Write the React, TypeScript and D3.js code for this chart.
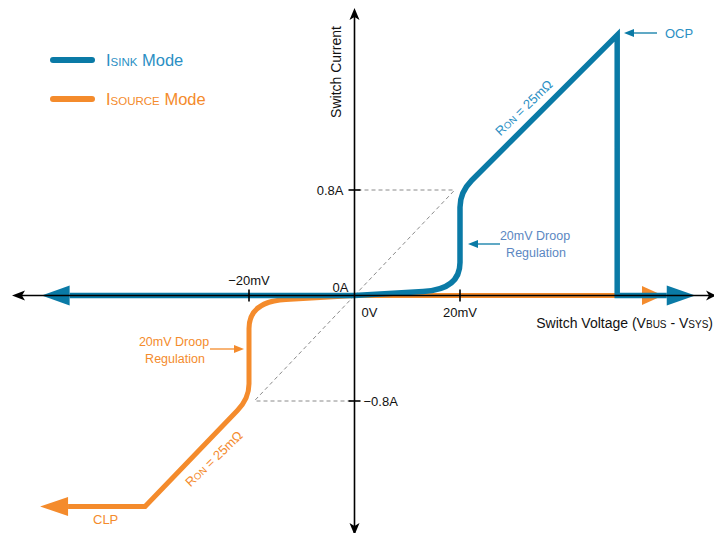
import React from "react";
import * as d3 from "d3";

// ---- data (mV, A) ----
const X_TICKS = [-20, 0, 20];
const X_TICK_LABELS = ["\u221220mV", "0V", "20mV"];
const Y_TICKS = [0.8, 0, -0.8];
const Y_TICK_LABELS = ["0.8A", "0A", "\u22120.8A"];

// path commands: plain point = line-to, point with c = quadratic control
type Pt = { x: number; y: number; cx?: number; cy?: number };
const sinkCurve: Pt[] = [
  { x: -54, y: 0 },
  { x: 0, y: 0 },
  { x: 13, y: 0.03 },
  { cx: 20, cy: 0.045, x: 20, y: 0.25 },
  { x: 20, y: 0.67 },
  { cx: 20, cy: 0.783, x: 22.2, y: 0.872 },
  { x: 49.8, y: 1.975 },
  { x: 49.8, y: 0 },
  { x: 59.2, y: 0 },
];
const sourceCurve: Pt[] = [
  { x: 54.5, y: 0 },
  { x: 0, y: 0 },
  { x: -13, y: -0.03 },
  { cx: -20, cy: -0.045, x: -20, y: -0.25 },
  { x: -20, y: -0.67 },
  { cx: -20, cy: -0.783, x: -22.2, y: -0.872 },
  { x: -39.7, y: -1.6 },
  { x: -54.3, y: -1.6 },
];
// arrowheads: [baseX, tipX, y]
const sinkArrows: [number, number, number][] = [
  [-54, -59.3, 0],
  [59.2, 64.6, 0],
];
const sourceArrows: [number, number, number][] = [
  [54.5, 58.5, 0],
  [-54.3, -59.6, -1.6],
];
const DASH_LEVELS = [0.8, -0.8];
const DASH_V = [20, -20];

const BLUE = "#0a7aa6";
const BLUE_TXT = "#2b8fc4";
const BLUE_SOFT = "#5b87c2";
const ORANGE = "#f48b2c";
const FONT = "'Liberation Sans', Arial, sans-serif";

export default function App() {
  const W = 714,
    H = 533;
  const x = d3.scaleLinear().domain([-20, 20]).range([249, 460]);
  const y = d3.scaleLinear().domain([-0.8, 0.8]).range([401, 190]);
  const x0 = x(0),
    y0 = y(0);

  const build = (pts: Pt[]) => {
    const p = d3.path();
    pts.forEach((pt, i) => {
      if (i === 0) p.moveTo(x(pt.x), y(pt.y));
      else if (pt.cx !== undefined)
        p.quadraticCurveTo(x(pt.cx), y(pt.cy!), x(pt.x), y(pt.y));
      else p.lineTo(x(pt.x), y(pt.y));
    });
    return p.toString();
  };

  const arrow = (a: [number, number, number], half: number) => {
    const bx = x(a[0]),
      tx = x(a[1]),
      yy = y(a[2]);
    return `M${tx},${yy}L${bx},${yy - half}L${bx},${yy + half}Z`;
  };

  return (
    <svg
      width={W}
      height={H}
      style={{ position: "absolute", left: 0, top: 0, background: "#fff" }}
      fontFamily={FONT}
    >
      {/* dashed guides */}
      <g stroke="#8a8a8a" strokeWidth={1} strokeDasharray="4,3" fill="none">
        {DASH_LEVELS.map((lv, i) => (
          <g key={i}>
            <line x1={x0 + (lv > 0 ? 3 : -3)} x2={x(DASH_V[i]) + (lv > 0 ? -5 : 7)} y1={y(lv)} y2={y(lv)} />
            <line x1={x0} y1={y0} x2={x(DASH_V[i] * 0.95)} y2={y(lv * 1.0)} />
          </g>
        ))}
      </g>

      {/* source curve */}
      <path d={build(sourceCurve)} fill="none" stroke={ORANGE} strokeWidth={5} strokeLinejoin="miter" />
      {sourceArrows.map((a, i) => (
        <path key={i} d={arrow(a, 9.5)} fill={ORANGE} />
      ))}
      {/* sink curve */}
      <path d={build(sinkCurve)} fill="none" stroke={BLUE} strokeWidth={5.5} strokeLinejoin="miter" />
      {sinkArrows.map((a, i) => (
        <path key={i} d={arrow(a, 10)} fill={BLUE} />
      ))}

      {/* axes */}
      <g stroke="#000" strokeWidth={1.6}>
        <line x1={20} x2={W + 5} y1={y0} y2={y0} />
        <line x1={x0} x2={x0} y1={16} y2={H} />
        {X_TICKS.filter((t) => t !== 0).map((t) => (
          <line key={t} x1={x(t)} x2={x(t)} y1={y0 - 6} y2={y0 + 6} />
        ))}
        {Y_TICKS.filter((t) => t !== 0).map((t) => (
          <line key={t} x1={x0 - 6} x2={x0 + 6} y1={y(t)} y2={y(t)} />
        ))}
      </g>
      <g fill="#000">
        <path d={`M12,${y0}L25,${y0 - 5}L22,${y0}L25,${y0 + 5}Z`} />
        <path d={`M${W + 2},${y0}L${W - 8},${y0 - 5}L${W - 5},${y0}L${W - 8},${y0 + 5}Z`} />
        <path d={`M${x0},8L${x0 - 5},20L${x0},17L${x0 + 5},20Z`} />
        <path d={`M${x0},${H + 2}L${x0 - 5},${H - 10}L${x0},${H - 7}L${x0 + 5},${H - 10}Z`} />
      </g>

      {/* tick labels */}
      <g fontSize={13} fill="#111">
        <text x={x(-20)} y={y0 - 11} textAnchor="middle">{X_TICK_LABELS[0]}</text>
        <text x={x0 + 7} y={y0 + 21}>{X_TICK_LABELS[1]}</text>
        <text x={x(20)} y={y0 + 21} textAnchor="middle">{X_TICK_LABELS[2]}</text>
        <text x={x0 - 11} y={y(0.8) + 5} textAnchor="end">{Y_TICK_LABELS[0]}</text>
        <text x={x0 - 6} y={y0 - 4} textAnchor="end">{Y_TICK_LABELS[1]}</text>
        <text x={x0 + 9} y={y(-0.8) + 5}>{Y_TICK_LABELS[2]}</text>
      </g>

      {/* axis titles */}
      <text fontSize={14} fill="#111" transform={`translate(${x0 - 14},72) rotate(-90)`} textAnchor="middle">
        Switch Current
      </text>
      <text fontSize={14} fill="#111" x={713} y={y0 + 32} textAnchor="end">
        Switch Voltage (V<tspan fontSize={10}>BUS</tspan> - V<tspan fontSize={10}>SYS</tspan>)
      </text>

      {/* legend */}
      <line x1={53} x2={92} y1={60} y2={60} stroke={BLUE} strokeWidth={6} strokeLinecap="round" />
      <text x={106} y={66} fontSize={16.5} fill={BLUE_TXT}>
        I<tspan fontSize={11.5}>SINK</tspan> Mode
      </text>
      <line x1={53} x2={92} y1={99} y2={99} stroke={ORANGE} strokeWidth={6} strokeLinecap="round" />
      <text x={106} y={105} fontSize={16.5} fill={ORANGE}>
        I<tspan fontSize={11.5}>SOURCE</tspan> Mode
      </text>

      {/* annotations: sink */}
      <line x1={657} x2={632} y1={33} y2={33} stroke={BLUE} strokeWidth={1.3} />
      <path d="M624,33L634,29L634,37Z" fill={BLUE} />
      <text x={665} y={38} fontSize={13} fill={BLUE_TXT}>OCP</text>

      <text transform="translate(527,111) rotate(-44)" fontSize={13} fill={BLUE_TXT} textAnchor="middle">
        R<tspan fontSize={9.5}>ON</tspan> = 25m&#937;
      </text>

      <line x1={500} x2={476} y1={244} y2={244} stroke={BLUE} strokeWidth={1.3} />
      <path d="M468,244L478,240L478,248Z" fill={BLUE} />
      <text fontSize={12.5} fill={BLUE_SOFT} textAnchor="middle">
        <tspan x={535} y={240}>20mV Droop</tspan>
        <tspan x={536} y={257}>Regulation</tspan>
      </text>

      {/* annotations: source */}
      <line x1={210} x2={236} y1={349} y2={349} stroke={ORANGE} strokeWidth={1.3} />
      <path d="M244,349L234,345L234,353Z" fill={ORANGE} />
      <text fontSize={12.5} fill={ORANGE} textAnchor="middle">
        <tspan x={174} y={346}>20mV Droop</tspan>
        <tspan x={175} y={363}>Regulation</tspan>
      </text>

      <text transform="translate(217,462) rotate(-44)" fontSize={13} fill={ORANGE} textAnchor="middle">
        R<tspan fontSize={9.5}>ON</tspan> = 25m&#937;
      </text>

      <text x={93} y={524} fontSize={13} fill={ORANGE}>CLP</text>
    </svg>
  );
}
